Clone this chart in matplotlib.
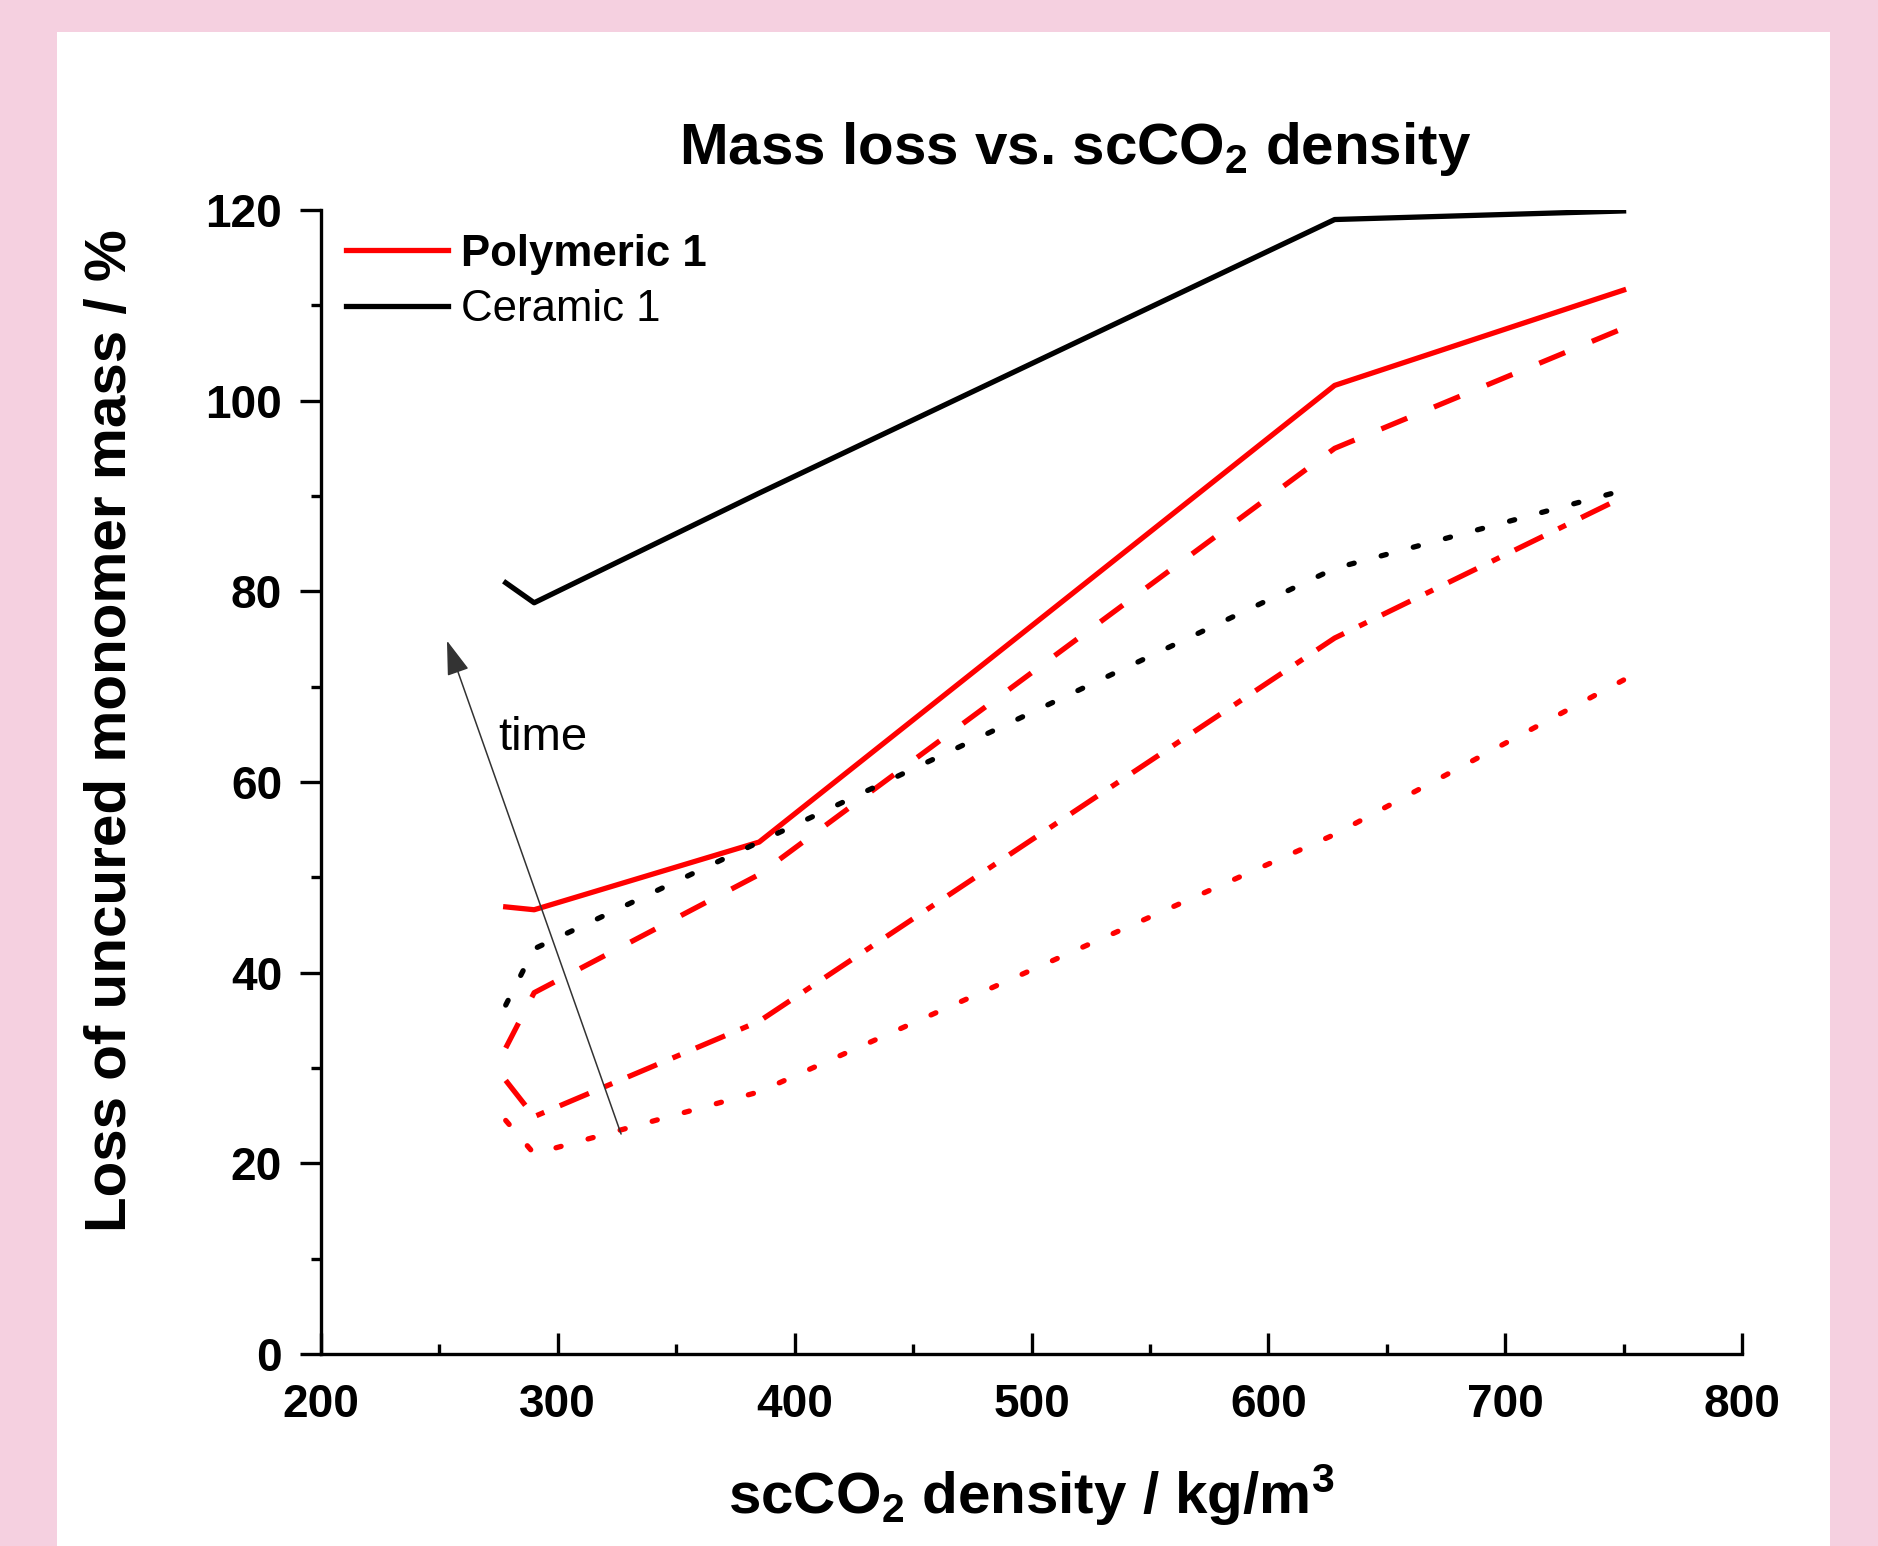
import matplotlib
matplotlib.use('Agg')
import matplotlib.pyplot as plt
from matplotlib.patches import Rectangle

# scCO2 density / kg/m3
density = [278, 290, 385, 628, 750]

# loss of uncured monomer mass / %
ceramic_long = [80.9, 78.8, 90.3, 119.0, 119.9]     # black solid
polymeric_long = [46.9, 46.6, 53.7, 101.6, 111.6]   # red solid
polymeric_mid = [32.1, 37.9, 50.3, 95.0, 107.6]     # red dashed
ceramic_short = [36.6, 42.5, 53.7, 82.4, 90.6]      # black dotted
polymeric_short = [28.7, 24.9, 34.9, 75.1, 89.9]    # red dash-dot
polymeric_first = [24.5, 21.0, 27.5, 54.5, 70.7]    # red dotted

plt.rcParams['font.family'] = ['Liberation Sans', 'DejaVu Sans']
plt.rcParams['mathtext.default'] = 'regular'

fig = plt.figure(figsize=(18.78, 15.46), dpi=100)
fig.patch.set_facecolor('#f5d0e0')
# white panel behind the chart
fig.patches.append(Rectangle((57 / 1878, 0), (1830 - 57) / 1878, 1 - 32 / 1546,
                             transform=fig.transFigure, facecolor='white',
                             edgecolor='none', zorder=-5))
ax = fig.add_axes([321 / 1878, 1 - 1354 / 1546, 1421 / 1878, 1144 / 1546])
ax.set_facecolor('none')

lw = 3.8
red = '#ff0000'
l1, = ax.plot(density, polymeric_long, color=red, lw=lw, label='Polymeric 1')
l2, = ax.plot(density, ceramic_long, color='black', lw=lw, label='Ceramic 1')
ax.plot(density, polymeric_mid, color=red, lw=lw, ls=(0, (5.3, 5.5)))
ax.plot(density, ceramic_short, color='black', lw=lw, ls=(0, (1.0, 5.3)),
        dash_capstyle='round')
ax.plot(density, polymeric_short, color=red, lw=lw, ls=(0, (6.0, 3.2, 1.6, 3.2)))
ax.plot(density, polymeric_first, color=red, lw=lw, ls=(0, (1.0, 5.3)),
        dash_capstyle='round')

# time arrow
ax.annotate('', xy=(252.8, 75.1), xytext=(327.1, 22.8),
            arrowprops=dict(arrowstyle='-|>,head_length=0.4,head_width=0.13',
                            mutation_scale=54, lw=1.1, color='#333333'))
ax.text(274.7, 63.4, 'time', fontsize=34, ha='left', va='baseline')

ax.set_xlim(200, 800)
ax.set_ylim(0, 120)
ax.set_xticks(range(200, 801, 100))
ax.set_xticks(range(250, 800, 100), minor=True)
ax.set_yticks(range(0, 121, 20))
ax.set_yticks(range(10, 120, 20), minor=True)
ax.spines['top'].set_visible(False)
ax.spines['right'].set_visible(False)
for s in ['left', 'bottom']:
    ax.spines[s].set_linewidth(2.4)
ax.tick_params(axis='x', which='both', direction='in', width=2.4, pad=21)
ax.tick_params(axis='y', which='both', direction='out', width=2.4, pad=13)
ax.tick_params(which='major', length=15)
ax.tick_params(which='minor', length=7.5)
for lab in ax.get_xticklabels() + ax.get_yticklabels():
    lab.set_fontsize(33)
    lab.set_fontweight('bold')

ax.set_xlabel('scCO$_2$ density / kg/m$^3$', fontsize=42, fontweight='bold')
ax.xaxis.set_label_coords(0.5, -0.095)
ax.set_ylabel('Loss of uncured monomer mass / %', fontsize=42, fontweight='bold')
ax.yaxis.set_label_coords(-0.129, 0.545)
ax.text(0.5306, 1.040, 'Mass loss vs. scCO$_2$ density', transform=ax.transAxes,
        fontsize=42, fontweight='bold', ha='center', va='baseline')

leg = ax.legend(handles=[l1, l2], loc='upper left', bbox_to_anchor=(-0.004, 1.006),
                frameon=False, fontsize=31.5, handlelength=2.33,
                handletextpad=0.3, labelspacing=0.33, borderaxespad=0.3)
leg.get_texts()[0].set_fontweight('bold')

fig.savefig('out.png', dpi=100, facecolor=fig.get_facecolor())
